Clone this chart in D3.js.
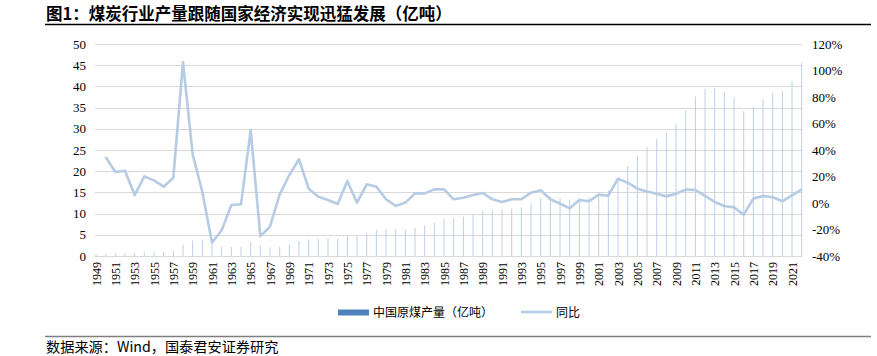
<!DOCTYPE html>
<html>
<head>
<meta charset="utf-8">
<script src="https://cdn.jsdelivr.net/npm/d3@7"></script>
<style>
  html, body { margin: 0; padding: 0; background: #fff; }
  svg { display: block; }
</style>
</head>
<body>
<svg id="chart" width="877" height="356"></svg>
<script>
const years = [1949,1950,1951,1952,1953,1954,1955,1956,1957,1958,1959,1960,1961,1962,1963,1964,1965,1966,1967,1968,1969,1970,1971,1972,1973,1974,1975,1976,1977,1978,1979,1980,1981,1982,1983,1984,1985,1986,1987,1988,1989,1990,1991,1992,1993,1994,1995,1996,1997,1998,1999,2000,2001,2002,2003,2004,2005,2006,2007,2008,2009,2010,2011,2012,2013,2014,2015,2016,2017,2018,2019,2020,2021,2022];
// 中国原煤产量（亿吨）
const production = [0.32,0.43,0.53,0.66,0.70,0.84,0.98,1.10,1.31,2.70,3.69,3.97,2.78,2.20,2.17,2.15,3.32,2.50,2.05,2.20,2.66,3.54,3.92,4.10,4.17,4.13,4.82,4.83,5.50,6.18,6.35,6.20,6.22,6.66,7.15,7.89,8.72,8.94,9.28,9.80,10.54,10.80,10.87,11.16,11.50,12.40,13.61,13.97,13.73,13.32,13.64,13.84,14.72,15.50,18.35,21.23,23.65,25.70,27.60,29.03,31.15,34.28,37.64,39.45,39.74,38.74,37.47,34.11,35.24,36.98,38.46,39.02,41.26,45.60];
// 同比 (%)
const growth = [null,34.7,23.4,24.4,6.0,20.1,17.1,12.3,19.1,106.4,36.7,8.3,-30.0,-20.6,-1.5,-1.0,54.8,-25.0,-17.9,6.5,21.1,33.0,10.8,4.8,2.3,-0.7,16.6,0.3,14.1,12.3,2.8,-2.2,0.3,7.3,7.3,10.3,10.3,2.8,4.0,6.0,7.6,2.8,0.7,2.8,2.8,7.8,9.6,2.8,-0.5,-4.0,2.3,1.3,6.3,5.5,18.4,15.3,10.8,8.6,7.0,5.0,7.0,10.1,9.8,5.3,0.8,-2.3,-3.3,-8.8,3.3,5.3,4.3,1.3,5.8,10.3];
const xTickLabels = [1949,1951,1953,1955,1957,1959,1961,1963,1965,1967,1969,1971,1973,1975,1977,1979,1981,1983,1985,1987,1989,1991,1993,1995,1997,1999,2001,2003,2005,2007,2009,2011,2013,2015,2017,2019,2021];
const leftTicks = [0,5,10,15,20,25,30,35,40,45,50];
const rightTicks = [-40,-20,0,20,40,60,80,100,120];

const titleText = "图1：煤炭行业产量跟随国家经济实现迅猛发展（亿吨）";
const sourceText = "数据来源：Wind，国泰君安证券研究";
const legendNames = ["中国原煤产量（亿吨）", "同比"];

const svg = d3.select("#chart");
const serif = "'Liberation Serif','Times New Roman',serif";
const cjk = "'Noto Sans CJK SC','Noto Sans',sans-serif";

const plotL = 95, plotR = 802, plotT = 44, plotB = 256;
const x = d3.scalePoint().domain(years).range([96, 801.7]);
const yL = d3.scaleLinear().domain([0, 50]).range([plotB, plotT]);
const yR = d3.scaleLinear().domain([-40, 120]).range([plotB, plotT]);

// title
svg.append("text").attr("x", 46).attr("y", 20)
  .attr("font-family", cjk).attr("font-weight", "bold").attr("font-size", 16.5)
  .attr("fill", "#000").text(titleText);
svg.append("line").attr("x1", 45).attr("x2", 871).attr("y1", 24.5).attr("y2", 24.5)
  .attr("stroke", "#000").attr("stroke-width", 1.3);

// gridlines
svg.append("g").selectAll("line").data(leftTicks).join("line")
  .attr("x1", plotL).attr("x2", plotR)
  .attr("y1", d => Math.round(yL(d)) + 0.5).attr("y2", d => Math.round(yL(d)) + 0.5)
  .attr("stroke", "#d9d9d9").attr("stroke-width", 1);

// left axis
const axL = d3.axisLeft(yL).tickValues(leftTicks).tickSize(0).tickPadding(0);
const gL = svg.append("g").attr("transform", "translate(86,0)").call(axL);
gL.select(".domain").remove();
gL.selectAll("text").attr("font-family", serif).attr("font-size", 13).attr("fill", "#000");

// right axis
const axR = d3.axisRight(yR).tickValues(rightTicks).tickSize(0).tickPadding(0).tickFormat(d => d + "%");
const gR = svg.append("g").attr("transform", "translate(812,0)").call(axR);
gR.select(".domain").remove();
gR.selectAll("text").attr("font-family", serif).attr("font-size", 13).attr("fill", "#000");

// x axis labels
const axX = d3.axisBottom(x).tickValues(xTickLabels).tickSize(0).tickPadding(0);
const gX = svg.append("g").attr("transform", "translate(0,262)").call(axX);
gX.select(".domain").remove();
gX.selectAll("text")
  .attr("font-family", serif).attr("font-size", 12).attr("fill", "#000")
  .attr("transform", "rotate(-90)")
  .attr("text-anchor", "end").attr("x", 0).attr("y", 0).attr("dy", "0.35em");

// bars
svg.append("g").selectAll("rect").data(years).join("rect")
  .attr("x", (d) => x(d) - 0.5)
  .attr("width", 1)
  .attr("y", (d, i) => yL(production[i]))
  .attr("height", (d, i) => yL(0) - yL(production[i]))
  .attr("fill", "#bccfe6");

// line
const lineGen = d3.line()
  .defined((d, i) => growth[i] !== null)
  .x(d => x(d))
  .y((d, i) => yR(growth[i]));
svg.append("path").datum(years)
  .attr("d", lineGen)
  .attr("fill", "none").attr("stroke", "#b6cbe4").attr("stroke-width", 2.6)
  .attr("stroke-linejoin", "round").attr("stroke-linecap", "butt");

// legend
const lg = svg.append("g");
lg.append("rect").attr("x", 338).attr("y", 309.5).attr("width", 31).attr("height", 6).attr("fill", "#4f81bd");
lg.append("text").attr("x", 373).attr("y", 312.5).attr("dy", "0.35em")
  .attr("font-family", cjk).attr("font-size", 12).attr("fill", "#000").text(legendNames[0]);
lg.append("line").attr("x1", 521).attr("x2", 552).attr("y1", 312).attr("y2", 312)
  .attr("stroke", "#b6cbe4").attr("stroke-width", 2.6);
lg.append("text").attr("x", 556).attr("y", 312.5).attr("dy", "0.35em")
  .attr("font-family", cjk).attr("font-size", 12).attr("fill", "#000").text(legendNames[1]);

// source
svg.append("line").attr("x1", 45).attr("x2", 871).attr("y1", 336.5).attr("y2", 336.5)
  .attr("stroke", "#7f7f7f").attr("stroke-width", 1.3);
svg.append("text").attr("x", 46).attr("y", 347.5).attr("dy", "0.35em")
  .attr("font-family", cjk).attr("font-size", 14.2).attr("fill", "#000").text(sourceText);
</script>
</body>
</html>
